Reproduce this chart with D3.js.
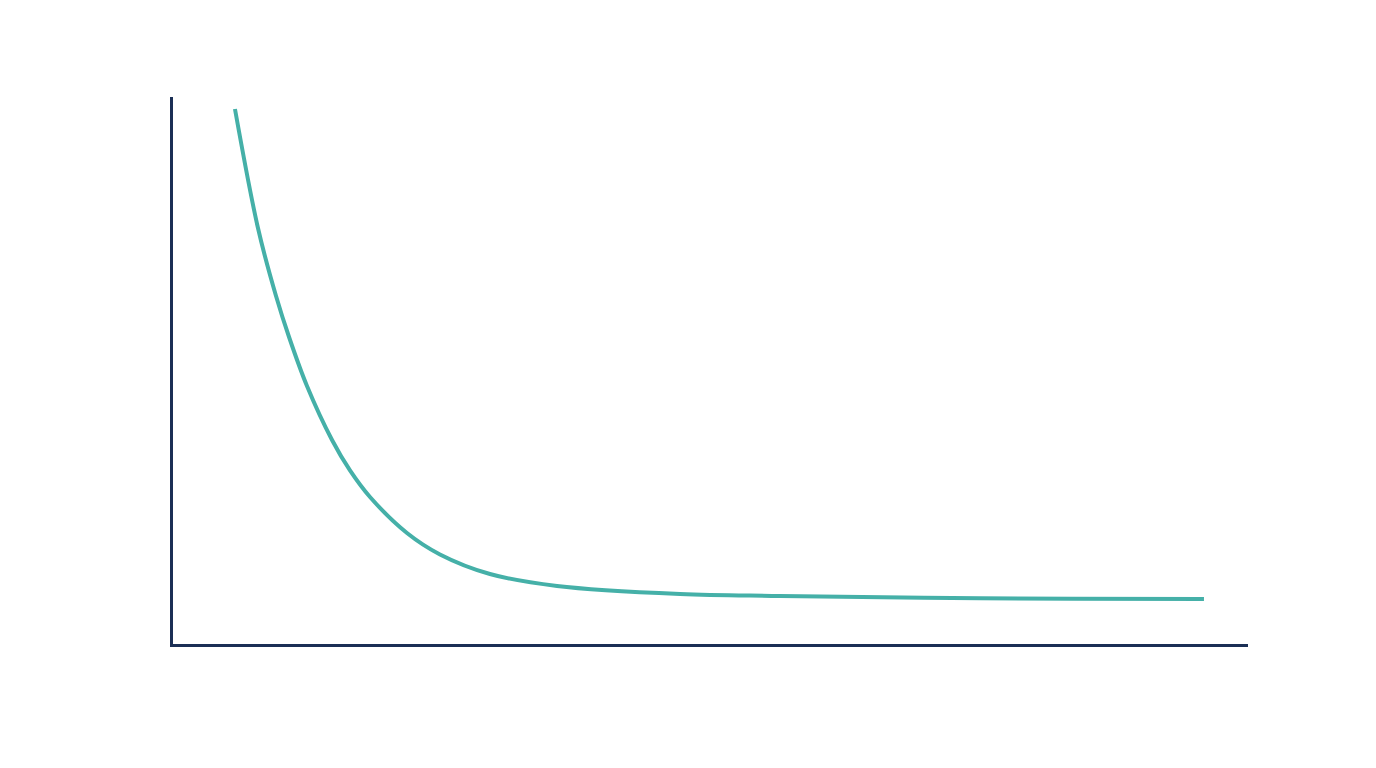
<!DOCTYPE html>
<html>
<head>
<meta charset="utf-8">
<script src="https://cdn.jsdelivr.net/npm/d3@7"></script>
<style>
  html, body { margin: 0; padding: 0; background: #ffffff; }
  svg { display: block; }
</style>
</head>
<body>
<svg id="chart" width="1376" height="768"></svg>
<script>
// Data (x: 0–100, y: 0–100)
const xValues = [5.95, 8.09, 9.77, 10.98, 12.65, 14.98, 16.65, 18.51, 21.95, 25.02, 29.67, 35.91, 47.35, 56.65, 75.26, 96.09];
const yValues = [97.99, 76.23, 63.80, 56.31, 47.35, 37.48, 31.92, 27.06, 20.48, 16.56, 12.98, 10.79, 9.32, 8.96, 8.54, 8.41];
const xTicks = [];
const yTicks = [];

const svg = d3.select("#chart");
const W = 1376, H = 768;
const margin = { left: 171, right: W - 1246, top: 98, bottom: H - 645 };

const x = d3.scaleLinear().domain([0, 100]).range([margin.left, W - margin.right]);
const y = d3.scaleLinear().domain([0, 100]).range([H - margin.bottom, margin.top]);

const axisColor = "#1b2f55";

const gx = svg.append("g")
  .attr("transform", `translate(0,${y(0)})`)
  .call(d3.axisBottom(x).tickValues(xTicks).tickSizeOuter(0));
const gy = svg.append("g")
  .attr("transform", `translate(${x(0)},0)`)
  .call(d3.axisLeft(y).tickValues(yTicks).tickSizeOuter(0));

[gx, gy].forEach(g => {
  g.select(".domain")
    .attr("stroke", axisColor)
    .attr("stroke-width", 3)
    .attr("stroke-linecap", "square");
});

const data = xValues.map((v, i) => ({ x: v, y: yValues[i] }));

const line = d3.line()
  .x(d => x(d.x))
  .y(d => y(d.y))
  .curve(d3.curveCatmullRom.alpha(0.5));

svg.append("path")
  .datum(data)
  .attr("d", line)
  .attr("fill", "none")
  .attr("stroke", "#45b0a8")
  .attr("stroke-width", 4)
  .attr("stroke-linecap", "butt");
</script>
</body>
</html>
